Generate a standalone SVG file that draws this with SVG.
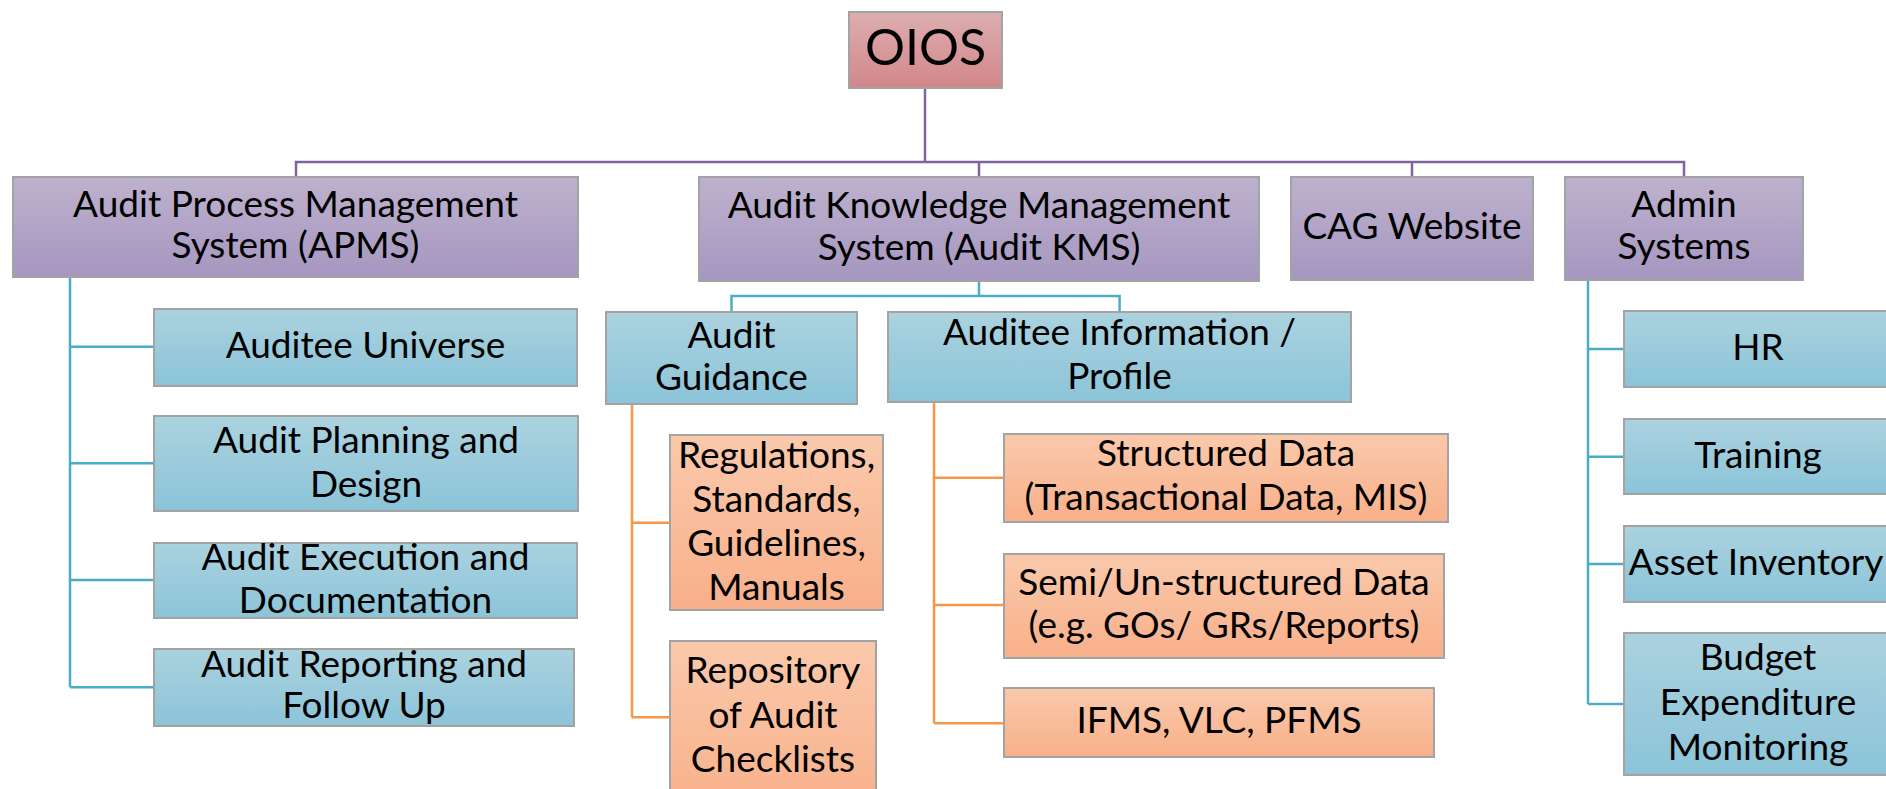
<svg xmlns="http://www.w3.org/2000/svg" width="1886" height="789" viewBox="0 0 1886 789">
<defs>
<linearGradient id="gPink" x1="0" y1="0" x2="0" y2="1"><stop offset="0" stop-color="#dcaeb0"/><stop offset="1" stop-color="#d2868a"/></linearGradient>
<linearGradient id="gPurple" x1="0" y1="0" x2="0" y2="1"><stop offset="0" stop-color="#bdb2cd"/><stop offset="1" stop-color="#a696c0"/></linearGradient>
<linearGradient id="gBlue" x1="0" y1="0" x2="0" y2="1"><stop offset="0" stop-color="#abd2df"/><stop offset="1" stop-color="#8bc4d8"/></linearGradient>
<linearGradient id="gOrange" x1="0" y1="0" x2="0" y2="1"><stop offset="0" stop-color="#fac9ab"/><stop offset="1" stop-color="#f8b08a"/></linearGradient>
</defs>
<style>
rect{stroke:#a3a3a3;stroke-width:2}
.pink{fill:url(#gPink)}
.pur{fill:url(#gPurple)}
.blue{fill:url(#gBlue)}
.org{fill:url(#gOrange)}
text{font-family:Lato,"Liberation Sans",sans-serif;font-size:37px;fill:#000;text-anchor:middle}
.big{font-size:50px}
.c{fill:none;stroke-width:2.5}
.cp{stroke:#8064a2}
.ct{stroke:#4bacc6}
.co{stroke:#f79646}
</style>
<rect width="1886" height="789" fill="#fff" style="stroke:none"/>
<g id="connectors">
<path class="c cp" d="M925,88V162M296,177V162H1684V177M979,162V177M1412,162V177"/>
<path class="c ct" d="M70,277V687.3M70,346.7H154M70,463.3H154M70,580H154M70,687.3H154"/>
<path class="c ct" d="M979,281V296M731.5,312V296H1119.6V312"/>
<path class="c ct" d="M1588,280V704M1588,349H1624M1588,456.7H1624M1588,564H1624M1588,704H1624"/>
<path class="c co" d="M632,404V717.3M632,522.7H670M632,717.3H670"/>
<path class="c co" d="M934,402V723.3M934,477.7H1004M934,605H1004M934,723.3H1004"/>
</g>
<g id="oios"><rect class="pink" x="849" y="12" width="153" height="76"/><text class="big" x="925.5" y="65">OIOS</text></g>
<g id="apms"><rect class="pur" x="13" y="177" width="565" height="100"/><text x="295.5" y="216.7">Audit Process Management</text><text x="295.5" y="258">System (APMS)</text></g>
<g id="kms"><rect class="pur" x="699" y="177" width="560" height="104"/><text x="979" y="218">Audit Knowledge Management</text><text x="979" y="260">System (Audit KMS)</text></g>
<g id="cag"><rect class="pur" x="1291" y="177" width="242" height="103"/><text x="1412" y="239.3">CAG Website</text></g>
<g id="admin"><rect class="pur" x="1565" y="177" width="238" height="103"/><text x="1684" y="217.3">Admin</text><text x="1684" y="259.3">Systems</text></g>
<g id="auditee-universe"><rect class="blue" x="154" y="309" width="423" height="77"/><text x="365.5" y="358.3">Auditee Universe</text></g>
<g id="audit-planning"><rect class="blue" x="154" y="416" width="424" height="95"/><text x="366" y="453.3">Audit Planning and</text><text x="366" y="496.7">Design</text></g>
<g id="audit-execution"><rect class="blue" x="154" y="543" width="423" height="75"/><text x="365.5" y="570">Audit Execution and</text><text x="365.5" y="612.7">Documentation</text></g>
<g id="audit-reporting"><rect class="blue" x="154" y="649" width="420" height="77"/><text x="364" y="676.7">Audit Reporting and</text><text x="364" y="718.3">Follow Up</text></g>
<g id="audit-guidance"><rect class="blue" x="606" y="312" width="251" height="92"/><text x="731.5" y="348.3">Audit</text><text x="731.5" y="390">Guidance</text></g>
<g id="auditee-info"><rect class="blue" x="888" y="312" width="463" height="90"/><text x="1119.5" y="345">Auditee Information /</text><text x="1119.5" y="389.3">Profile</text></g>
<g id="regulations"><rect class="org" x="670" y="435" width="213" height="175"/><text x="776.5" y="467.7">Regulations,</text><text x="776.5" y="511.7">Standards,</text><text x="776.5" y="556">Guidelines,</text><text x="776.5" y="600">Manuals</text></g>
<g id="repository"><rect class="org" x="670" y="641" width="206" height="170"/><text x="773" y="683.3">Repository</text><text x="773" y="728.3">of Audit</text><text x="773" y="771.7">Checklists</text></g>
<g id="structured"><rect class="org" x="1004" y="434" width="444" height="88"/><text x="1226" y="466">Structured Data</text><text x="1226" y="510">(Transactional Data, MIS)</text></g>
<g id="semi"><rect class="org" x="1004" y="554" width="440" height="104"/><text x="1224" y="595">Semi/Un-structured Data</text><text x="1224" y="638.3">(e.g. GOs/ GRs/Reports)</text></g>
<g id="ifms"><rect class="org" x="1004" y="688" width="430" height="69"/><text x="1219" y="733.3">IFMS, VLC, PFMS</text></g>
<g id="hr"><rect class="blue" x="1624" y="311" width="270" height="76"/><text x="1758" y="360">HR</text></g>
<g id="training"><rect class="blue" x="1624" y="419" width="270" height="75"/><text x="1758" y="468.3">Training</text></g>
<g id="asset"><rect class="blue" x="1624" y="526" width="270" height="76"/><text x="1756" y="575">Asset Inventory</text></g>
<g id="budget"><rect class="blue" x="1624" y="633" width="270" height="142"/><text x="1758" y="670">Budget</text><text x="1758" y="715">Expenditure</text><text x="1758" y="760">Monitoring</text></g>
</svg>
